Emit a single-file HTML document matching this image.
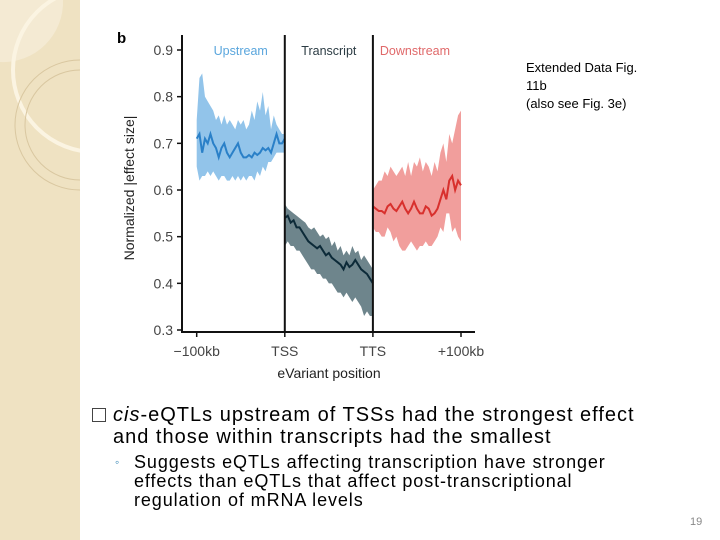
<!DOCTYPE html>
<html><head><meta charset="utf-8"><style>
body{margin:0;width:720px;height:540px;overflow:hidden;background:#fff;font-family:"Liberation Sans",sans-serif;position:relative}
.t{position:absolute;white-space:nowrap;color:#000}
</style></head><body>
<svg width="80" height="540" style="position:absolute;left:0;top:0">
<rect width="80" height="540" fill="#efe2c2"/>
<path d="M0 0 H63 A60 60 0 0 1 0 62 Z" fill="#f4ead3"/>
<circle cx="95" cy="70" r="82" fill="none" stroke="#fbf4e2" stroke-width="4"/>
<circle cx="80" cy="125" r="65" fill="none" stroke="#d9c7a0" stroke-width="1"/>
<circle cx="80" cy="125" r="55" fill="none" stroke="#d9c7a0" stroke-width="1"/>
</svg>
<svg id="chart" width="720" height="400" style="position:absolute;left:0;top:0"></svg>
<div class="t" style="left:526px;top:59px;font-size:13px;line-height:18px">Extended Data Fig.<br>11b<br>(also see Fig. 3e)</div>
<div style="position:absolute;left:92px;top:408px;width:12px;height:12px;border:1px solid #444"></div>
<div class="t" style="left:113px;top:404px;font-size:20px;line-height:22px;letter-spacing:1px"><i>cis</i>-eQTLs upstream of TSSs had the strongest effect<br>and those within transcripts had the smallest</div>
<div class="t" style="left:115px;top:455px;font-size:12px;color:#2a7fb0">◦</div>
<div class="t" style="left:134px;top:453px;font-size:18px;line-height:19px;letter-spacing:0.9px">Suggests eQTLs affecting transcription have stronger<br>effects than eQTLs that affect post-transcriptional<br>regulation of mRNA levels</div>
<div class="t" style="left:690px;top:516px;font-size:11px;color:#888">19</div>
<script>
const yTicks=[0.3,0.4,0.5,0.6,0.7,0.8,0.9];
const xTickLabels=["−100kb","TSS","TTS","+100kb"];
const regionNames=["Upstream","Transcript","Downstream"];
const upMean=[0.71,0.72,0.68,0.71,0.70,0.72,0.70,0.69,0.67,0.69,0.70,0.68,0.67,0.68,0.69,0.70,0.68,0.67,0.67,0.675,0.67,0.68,0.675,0.68,0.69,0.685,0.69,0.68,0.70,0.72,0.70,0.70,0.71];
const upHi=[0.75,0.84,0.85,0.80,0.79,0.78,0.77,0.75,0.76,0.74,0.76,0.74,0.75,0.74,0.73,0.75,0.74,0.75,0.73,0.74,0.77,0.75,0.79,0.77,0.81,0.76,0.78,0.73,0.76,0.74,0.73,0.72,0.72];
const upLo=[0.65,0.62,0.63,0.63,0.64,0.63,0.64,0.63,0.62,0.63,0.63,0.62,0.62,0.63,0.62,0.63,0.62,0.63,0.62,0.63,0.63,0.62,0.64,0.63,0.65,0.64,0.66,0.66,0.67,0.68,0.68,0.68,0.68];
const trMean=[0.54,0.545,0.53,0.535,0.52,0.52,0.51,0.50,0.49,0.485,0.48,0.475,0.48,0.47,0.46,0.465,0.455,0.45,0.445,0.44,0.43,0.445,0.435,0.44,0.45,0.44,0.43,0.425,0.42,0.41,0.40];
const trHi=[0.57,0.56,0.555,0.55,0.545,0.54,0.535,0.53,0.52,0.515,0.52,0.51,0.50,0.505,0.495,0.50,0.48,0.49,0.47,0.48,0.46,0.47,0.46,0.48,0.465,0.47,0.45,0.46,0.45,0.44,0.43];
const trLo=[0.48,0.49,0.48,0.48,0.47,0.47,0.46,0.45,0.44,0.43,0.43,0.42,0.42,0.41,0.41,0.40,0.40,0.39,0.38,0.38,0.37,0.38,0.37,0.36,0.37,0.36,0.35,0.33,0.34,0.33,0.33];
const dnMean=[0.565,0.56,0.555,0.555,0.55,0.565,0.57,0.56,0.555,0.565,0.575,0.56,0.55,0.56,0.575,0.56,0.55,0.55,0.565,0.56,0.545,0.55,0.56,0.58,0.60,0.58,0.62,0.63,0.60,0.62,0.61];
const dnHi=[0.60,0.61,0.62,0.62,0.64,0.63,0.65,0.64,0.63,0.64,0.65,0.63,0.66,0.63,0.66,0.65,0.67,0.64,0.66,0.65,0.63,0.66,0.64,0.68,0.70,0.66,0.72,0.70,0.73,0.76,0.77];
const dnLo=[0.52,0.51,0.51,0.50,0.50,0.52,0.51,0.49,0.50,0.48,0.47,0.47,0.48,0.49,0.48,0.47,0.48,0.48,0.49,0.48,0.48,0.49,0.50,0.52,0.51,0.55,0.55,0.51,0.52,0.50,0.49];

const svg=document.getElementById('chart');const NS='http://www.w3.org/2000/svg';
function mk(t,a,p){const e=document.createElementNS(NS,t);for(const k in a)e.setAttribute(k,a[k]);(p||svg).appendChild(e);return e;}
const X0=196.7,XW=88.1;
const yS=v=>330-(v-0.3)/0.6*280;
const xS=u=>X0+u*XW;
let ax=mk('line',{x1:182,y1:35,x2:182,y2:332,stroke:'#111','stroke-width':2});

let bx=mk('line',{x1:181,y1:332,x2:475,y2:332,stroke:'#111','stroke-width':2});

yTicks.forEach(v=>{
 let l=mk('line',{x1:177,x2:182,y1:yS(v),y2:yS(v),stroke:'#111','stroke-width':1.5});
 
 let t=mk('text',{x:173,y:yS(v)+5,'text-anchor':'end','font-size':14,fill:'#444','font-family':'Liberation Sans'});t.textContent=v.toFixed(1);
 
});
xTickLabels.forEach((s,i)=>{
 let l=mk('line',{x1:xS(i),x2:xS(i),y1:332,y2:337,stroke:'#111','stroke-width':1.5});
 
 let t=mk('text',{x:xS(i),y:356,'text-anchor':'middle','font-size':14,fill:'#444','font-family':'Liberation Sans'});t.textContent=s;
 
});
const series=[[upMean,upHi,upLo,'#92c4ea','#2a80c8','upstream'],[trMean,trHi,trLo,'#6e858c','#0c2a38','transcript'],[dnMean,dnHi,dnLo,'#f19e9c','#d8302d','downstream']];
series.forEach((s,r)=>{
 const [m,h,lo,bc,lc,nm]=s;const n=m.length;const px=i=>xS(r+i/(n-1));
 let d='M'+h.map((v,i)=>px(i)+','+yS(v)).join('L')+'L'+lo.map((v,i)=>px(i)+','+yS(v)).reverse().join('L')+'Z';
 let b=mk('path',{d:d,fill:bc});
 let l=mk('path',{d:'M'+m.map((v,i)=>px(i)+','+yS(v)).join('L'),fill:'none',stroke:lc,'stroke-width':2});
 
});
[1,2].forEach(i=>{let v=mk('line',{x1:xS(i),x2:xS(i),y1:35,y2:332,stroke:'#111','stroke-width':2});
 });
const labCol=['#5aa6dd','#2c3c44','#e0696a'];
regionNames.forEach((s,i)=>{let t=mk('text',{x:xS(i+0.5)+(i==2?-2:0),y:55,'text-anchor':'middle','font-size':12.5,fill:labCol[i],'font-family':'Liberation Sans'});t.textContent=s;
 });
let b=mk('text',{x:117,y:43,'font-size':15,'font-weight':'bold','font-family':'Liberation Sans'});b.textContent='b';

let xt=mk('text',{x:329,y:378,'text-anchor':'middle','font-size':14,fill:'#222','font-family':'Liberation Sans'});xt.textContent='eVariant position';

let yt=mk('text',{x:0,y:0,'text-anchor':'middle','font-size':14,fill:'#222','font-family':'Liberation Sans',transform:'translate(134,188) rotate(-90)'});yt.textContent='Normalized |effect size|';

</script>
</body></html>
